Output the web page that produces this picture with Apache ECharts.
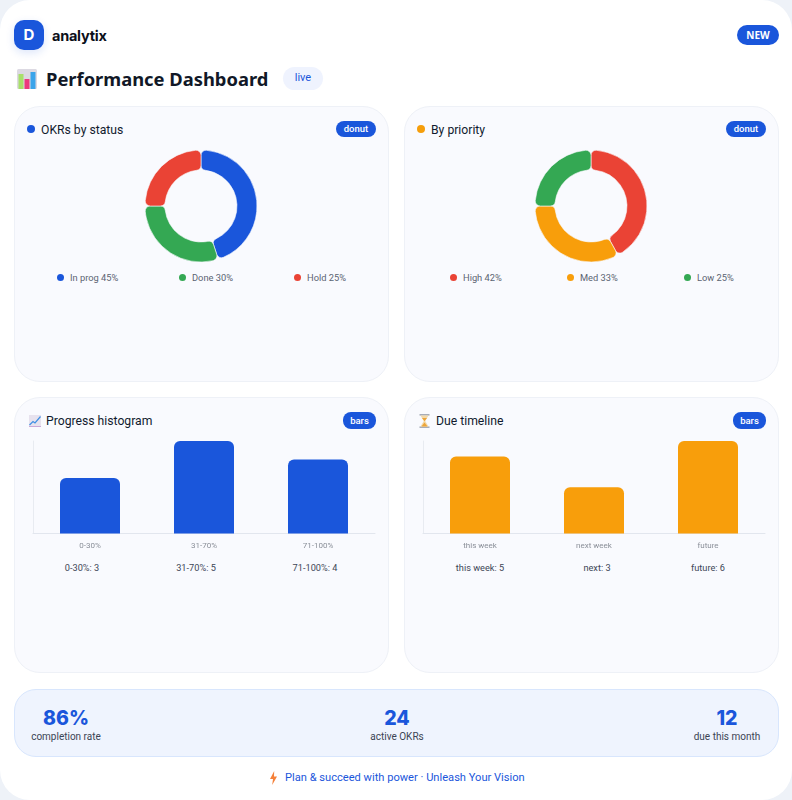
<!DOCTYPE html>
<html lang="en">
<head>
<meta charset="utf-8">
<title>Performance Dashboard</title>
<script src="https://cdn.jsdelivr.net/npm/echarts@6/dist/echarts.min.js"></script>
<style>
  html, body { margin: 0; padding: 0; background: #eef2f8; }
  body { width: 792px; height: 800px; overflow: hidden; font-family: "Noto Sans", sans-serif; }
  .page { position: relative; width: 792px; height: 800px; background: #fff; border-radius: 30px; overflow: hidden; }
  .abs { position: absolute; white-space: nowrap; }
  .logo { left: 14px; top: 20px; width: 30px; height: 30px; border-radius: 10px; background: #1a56db; color: #fff;
          font: 700 15px/30px Inter, sans-serif; text-align: center; box-shadow: 0 3px 8px rgba(26,86,219,.15); }
  .brand { left: 52px; top: 26px; font: 700 14.5px/20px Inter, sans-serif; letter-spacing: -.25px; color: #0b0f1a; }
  .new { left: 737px; top: 25px; width: 42px; height: 20px; border-radius: 10px; background: #1a56db; color: #fff;
         font: 700 10px/20px "Noto Sans", sans-serif; text-align: center; }
  .title { left: 46px; top: 66px; font: 700 18.35px/26px "Noto Sans", sans-serif; color: #111827; }
  .live { left: 283px; top: 67px; width: 40px; height: 23px; border-radius: 12px; background: #eff3fe; color: #1a56db;
          font: 400 11px/22px Roboto, sans-serif; text-align: center; }
  .card { position: absolute; width: 375px; height: 276px; box-sizing: border-box; background: #f9fafe;
          border: 1px solid #eef1f7; border-radius: 26px; }
  .dot { width: 8px; height: 8px; border-radius: 50%; }
  .card-title { font: 400 12.2px/18px Roboto, sans-serif; color: #111b2e; }
  .tag { height: 16px; border-radius: 8px; background: #1a56db; color: #fff; font: 500 9.5px/16px Roboto, sans-serif; text-align: center; }
  .legend { font: 400 9.3px/12px Roboto, sans-serif; color: #5b6472; }
  .note { font: 400 9.2px/12px Roboto, sans-serif; color: #3d4656; transform: translateX(-50%); }
  .chart { position: absolute; }
  .kpi { left: 14px; top: 689px; width: 765px; height: 68px; box-sizing: border-box; background: #eff4fe;
         border: 1px solid #d8e6fd; border-radius: 22px; }
  .kpi-num { font: 800 19.5px/24px Inter, sans-serif; color: #1a56db; transform: translateX(-50%); }
  .kpi-lab { font: 400 10px/12px Roboto, sans-serif; color: #3b4454; transform: translateX(-50%); }
  .foot { left: 285px; top: 771px; font: 400 11.12px/14px Roboto, sans-serif; color: #1a56db; }
  svg.abs { display: block; }
</style>
</head>
<body>
<div class="page" id="page">
  <div class="abs logo">D</div>
  <div class="abs brand">analytix</div>
  <div class="abs new">NEW</div>

  <svg class="abs" style="left:17px;top:69px" width="20" height="20" viewBox="0 0 20 20">
    <rect x="0" y="0" width="20" height="20" rx="1.5" fill="#dcd9e2"/>
    <rect x="1.5" y="5" width="5" height="15" fill="#a8e06a"/>
    <rect x="7.5" y="10" width="5" height="10" fill="#ec3a7d"/>
    <rect x="13.5" y="3" width="5" height="17" fill="#3aa4ea"/>
  </svg>
  <div class="abs title">Performance Dashboard</div>
  <div class="abs live">live</div>

  <div class="card" style="left:14px;top:106px"></div>
  <div class="card" style="left:404px;top:106px"></div>
  <div class="card" style="left:14px;top:397px"></div>
  <div class="card" style="left:404px;top:397px"></div>

  <div class="abs dot" style="left:27px;top:125px;background:#1a56db"></div>
  <div class="abs card-title" style="left:41px;top:121px">OKRs by status</div>
  <div class="abs tag" style="left:336px;top:121px;width:40px">donut</div>

  <div class="abs dot" style="left:417px;top:125px;background:#f59e0b"></div>
  <div class="abs card-title" style="left:431px;top:121px">By priority</div>
  <div class="abs tag" style="left:726px;top:121px;width:40px">donut</div>

  <svg class="abs" style="left:29px;top:415px" width="12" height="12" viewBox="0 0 12 12">
    <rect width="12" height="12" fill="#e7e2ee"/>
    <polyline points="0.5,10 4,6.5 6,8 11.5,1.5" fill="none" stroke="#3f90e4" stroke-width="1.2"/>
    <rect y="11" width="12" height="1" fill="#c9a8d8"/>
  </svg>
  <div class="abs card-title" style="left:46px;top:412px">Progress histogram</div>
  <div class="abs tag" style="left:343px;top:412px;width:33px;height:17px;line-height:17px">bars</div>

  <svg class="abs" style="left:419px;top:414px" width="11" height="14" viewBox="0 0 11 14">
    <rect x="0.5" y="0" width="10" height="1.6" fill="#a7adb8"/>
    <rect x="0.5" y="12.4" width="10" height="1.6" fill="#a7adb8"/>
    <path d="M1.5 1.6H9.5L6.2 7L9.5 12.4H1.5L4.8 7Z" fill="#f3d9a8"/>
    <path d="M3 4H8L5.5 7.2ZM2.5 12.4L5.5 8.6L8.5 12.4Z" fill="#eda53a"/>
  </svg>
  <div class="abs card-title" style="left:436px;top:412px">Due timeline</div>
  <div class="abs tag" style="left:733px;top:412px;width:33px;height:17px;line-height:17px">bars</div>

  <div class="abs kpi"></div>
  <div class="abs kpi-num" style="left:66px;top:706px">86%</div>
  <div class="abs kpi-lab" style="left:66px;top:731px">completion rate</div>
  <div class="abs kpi-num" style="left:397px;top:706px">24</div>
  <div class="abs kpi-lab" style="left:397px;top:731px">active OKRs</div>
  <div class="abs kpi-num" style="left:727px;top:706px">12</div>
  <div class="abs kpi-lab" style="left:727px;top:731px">due this month</div>

  <svg class="abs" style="left:269px;top:771px" width="9" height="14" viewBox="0 0 9 14">
    <path d="M5.2 0L1 8H4L3.2 14L8 5.5H5Z" fill="#f5813a"/>
  </svg>
  <div class="abs foot">Plan &amp; succeed with power · Unleash Your Vision</div>

  <div class="chart" id="statusPie" style="left:100px;top:140px;width:202px;height:132px"></div>
  <div class="chart" id="priorityPie" style="left:490px;top:140px;width:202px;height:132px"></div>
  <div class="chart" id="histBars" style="left:14px;top:430px;width:373px;height:125px"></div>
  <div class="chart" id="dueBars" style="left:404px;top:430px;width:373px;height:125px"></div>
</div>

<script>
// Palette
const blue = '#1a56db', green = '#34a853', red = '#ea4335', amber = '#f89e0b';

// OKRs by status
const statusNames = ['In prog', 'Done', 'Hold'];
const statusValues = [45, 30, 25];
const statusColors = [blue, green, red];
const statusLegendX = [57, 179, 294];

// By priority
const priorityNames = ['High', 'Med', 'Low'];
const priorityValues = [42, 33, 25];
const priorityColors = [red, amber, green];
const priorityLegendX = [450, 567, 684];

// Progress histogram
const progressBins = ['0-30%', '31-70%', '71-100%'];
const progressCounts = [3, 5, 4];
const progressNotes = ['0-30%: 3', '31-70%: 5', '71-100%: 4'];
const progressNoteX = [82, 196, 315];

// Due timeline
const dueBins = ['this week', 'next week', 'future'];
const dueCounts = [5, 3, 6];
const dueNotes = ['this week: 5', 'next: 3', 'future: 6'];
const dueNoteX = [480, 597, 708];

const page = document.getElementById('page');

function addDiv(cls, style, text) {
  const el = document.createElement('div');
  el.className = 'abs ' + cls;
  el.style.cssText = style;
  if (text) el.textContent = text;
  page.appendChild(el);
}

function donut(id, names, values, colors, legendX) {
  const chart = echarts.init(document.getElementById(id), null, { renderer: 'canvas' });
  chart.setOption({
    animation: false,
    series: [{
      type: 'pie',
      center: [101, 66],
      radius: [36, 56],
      startAngle: 90,
      clockwise: true,
      label: { show: false },
      labelLine: { show: false },
      silent: true,
      itemStyle: { borderRadius: 5, borderColor: '#f9fafe', borderWidth: 0.6 },
      data: names.map((n, i) => ({ name: n, value: values[i], itemStyle: { color: colors[i] } }))
    }]
  });
  names.forEach((n, i) => {
    addDiv('dot', `left:${legendX[i]}px;top:274px;width:7px;height:7px;background:${colors[i]}`);
    addDiv('legend', `left:${legendX[i] + 13}px;top:272px`, `${n} ${values[i]}%`);
  });
}

function bars(id, cats, values, color, notes, noteX) {
  const chart = echarts.init(document.getElementById(id), null, { renderer: 'canvas' });
  chart.setOption({
    animation: false,
    grid: { left: 19, right: 12, top: 11, height: 92.5 },
    xAxis: {
      type: 'category',
      data: cats,
      axisLine: { lineStyle: { color: '#e2e6ee', width: 1 } },
      axisTick: { show: false },
      axisLabel: { color: '#8a8f98', fontSize: 8, fontFamily: 'Roboto', margin: 8 }
    },
    yAxis: {
      type: 'value',
      min: 0,
      max: Math.max(...values),
      interval: Math.max(...values),
      splitLine: { show: false },
      axisLabel: { show: false },
      axisTick: { show: false },
      axisLine: { show: true, lineStyle: { color: '#e8ebf1', width: 1 } }
    },
    series: [{
      type: 'bar',
      data: values,
      barWidth: 60,
      silent: true,
      itemStyle: { color: color, borderRadius: [6, 6, 0, 0] }
    }]
  });
  notes.forEach((t, i) => addDiv('note', `left:${noteX[i]}px;top:562px`, t));
}

donut('statusPie', statusNames, statusValues, statusColors, statusLegendX);
donut('priorityPie', priorityNames, priorityValues, priorityColors, priorityLegendX);
bars('histBars', progressBins, progressCounts, blue, progressNotes, progressNoteX);
bars('dueBars', dueBins, dueCounts, amber, dueNotes, dueNoteX);
</script>
</body>
</html>
